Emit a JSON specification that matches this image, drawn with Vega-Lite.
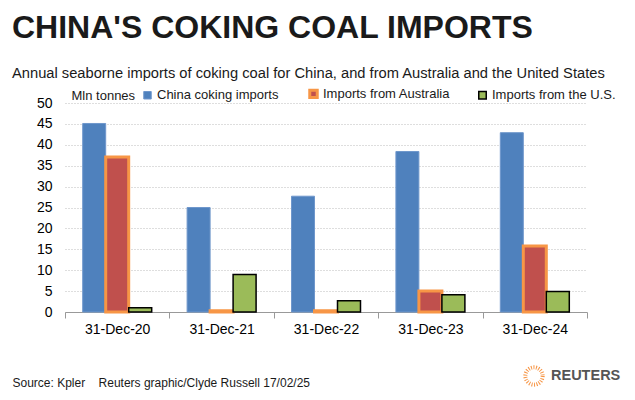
{
  "$schema": "https://vega.github.io/schema/vega-lite/v6.json",
  "width": 522,
  "height": 209,
  "autosize": {"type": "none"},
  "padding": {"left": 65, "top": 103, "right": 48, "bottom": 88},
  "background": "white",
  "config": {
    "font": "Liberation Sans",
    "view": {"stroke": null}
  },
  "title": {
    "text": "CHINA'S COKING COAL IMPORTS",
    "subtitle": "Annual seaborne imports of coking coal for China, and from Australia and the United States",
    "anchor": "start",
    "frame": "group",
    "dx": -53,
    "offset": 5,
    "font": "Liberation Sans",
    "fontSize": 32,
    "fontWeight": "bold",
    "color": "#1a1a1a",
    "subtitleFont": "Liberation Sans",
    "subtitleFontSize": 14.7,
    "subtitleColor": "#1a1a1a",
    "subtitlePadding": 21
  },
  "data": {
    "values": [
      {"date": "31-Dec-20", "series": "China coking imports", "value": 45.1},
      {"date": "31-Dec-20", "series": "Imports from Australia", "value": 37.1},
      {"date": "31-Dec-20", "series": "Imports from the U.S.", "value": 1.0},
      {"date": "31-Dec-21", "series": "China coking imports", "value": 25.0},
      {"date": "31-Dec-21", "series": "Imports from Australia", "value": 0.3},
      {"date": "31-Dec-21", "series": "Imports from the U.S.", "value": 9.0},
      {"date": "31-Dec-22", "series": "China coking imports", "value": 27.7},
      {"date": "31-Dec-22", "series": "Imports from Australia", "value": 0.3},
      {"date": "31-Dec-22", "series": "Imports from the U.S.", "value": 2.7},
      {"date": "31-Dec-23", "series": "China coking imports", "value": 38.4},
      {"date": "31-Dec-23", "series": "Imports from Australia", "value": 5.0},
      {"date": "31-Dec-23", "series": "Imports from the U.S.", "value": 4.1},
      {"date": "31-Dec-24", "series": "China coking imports", "value": 42.9},
      {"date": "31-Dec-24", "series": "Imports from Australia", "value": 15.8},
      {"date": "31-Dec-24", "series": "Imports from the U.S.", "value": 4.9}
    ]
  },
  "mark": {"type": "bar"},
  "encoding": {
    "x": {
      "field": "date",
      "type": "nominal",
      "sort": null,
      "scale": {"paddingInner": 0, "paddingOuter": 0},
      "axis": {
        "title": "Source: Kpler\u00a0\u00a0\u00a0\u00a0Reuters graphic/Clyde Russell 17/02/25",
        "titleX": -53,
        "titleY": 74,
        "titleAnchor": "start",
        "titleAlign": "left",
        "titleBaseline": "alphabetic",
        "titleFontSize": 12,
        "titleFontWeight": "normal",
        "titleColor": "#1a1a1a",
        "labelAngle": 0,
        "labelFontSize": 14,
        "labelColor": "#000000",
        "labelPadding": 4,
        "tickBand": "extent",
        "tickSize": 6,
        "tickColor": "#999999",
        "domainColor": "#999999",
        "grid": false
      }
    },
    "xOffset": {
      "field": "series",
      "type": "nominal",
      "sort": ["China coking imports", "Imports from Australia", "Imports from the U.S."],
      "scale": {"paddingInner": 0, "paddingOuter": 0.77}
    },
    "y": {
      "field": "value",
      "type": "quantitative",
      "scale": {"domain": [0, 50], "nice": false},
      "axis": {
        "values": [0, 5, 10, 15, 20, 25, 30, 35, 40, 45, 50],
        "labelOverlap": false,
        "title": "Mln tonnes",
        "titleAngle": 0,
        "titleX": 6,
        "titleY": -4,
        "titleAlign": "left",
        "titleBaseline": "alphabetic",
        "titleFontSize": 13,
        "titleFontWeight": "normal",
        "titleColor": "#1a1a1a",
        "labelFontSize": 14,
        "labelColor": "#000000",
        "labelPadding": 13,
        "ticks": false,
        "domain": false,
        "grid": true,
        "gridColor": "#bdbdbd",
        "gridDash": [1, 2],
        "gridWidth": 1
      }
    },
    "fill": {
      "field": "series",
      "type": "nominal",
      "sort": ["China coking imports", "Imports from Australia", "Imports from the U.S."],
      "scale": {
        "domain": ["China coking imports", "Imports from Australia", "Imports from the U.S."],
        "range": ["#4F81BD", "#C0504D", "#9BBB59"]
      },
      "legend": {
        "title": null,
        "orient": "none",
        "legendX": 76,
        "legendY": -16,
        "direction": "horizontal",
        "symbolType": "square",
        "symbolSize": 56,
        "symbolStrokeWidth": 1.5,
        "labelFontSize": 13,
        "labelColor": "#1a1a1a",
        "labelOffset": 3,
        "columnPadding": 24,
        "labelLimit": 300
      }
    },
    "stroke": {
      "field": "series",
      "type": "nominal",
      "sort": ["China coking imports", "Imports from Australia", "Imports from the U.S."],
      "scale": {
        "domain": ["China coking imports", "Imports from Australia", "Imports from the U.S."],
        "range": ["#6f97cc", "#F79646", "#000000"]
      },
      "legend": {
        "title": null,
        "orient": "none",
        "legendX": 76,
        "legendY": -16,
        "direction": "horizontal",
        "symbolType": "square",
        "symbolSize": 56,
        "symbolStrokeWidth": 1.5,
        "labelFontSize": 13,
        "labelColor": "#1a1a1a",
        "labelOffset": 3,
        "columnPadding": 24,
        "labelLimit": 300
      }
    },
    "strokeWidth": {
      "field": "series",
      "type": "nominal",
      "scale": {
        "type": "ordinal",
        "domain": ["China coking imports", "Imports from Australia", "Imports from the U.S."],
        "range": [1, 3, 1.5]
      },
      "legend": null
    },
    "opacity": {
      "datum": "REUTERS",
      "type": "nominal",
      "scale": {"type": "ordinal", "domain": ["REUTERS"], "range": [1]},
      "legend": {
        "title": null,
        "orient": "none",
        "legendX": 458,
        "legendY": 262,
        "symbolType": "circle",
        "symbolSize": 300,
        "symbolFillColor": "transparent",
        "symbolStrokeColor": "#F79646",
        "symbolStrokeWidth": 4,
        "symbolDash": [1, 1.5],
        "labelFontSize": 14.5,
        "labelFontWeight": "bold",
        "labelColor": "#555555",
        "labelOffset": 6
      }
    }
  }
}
